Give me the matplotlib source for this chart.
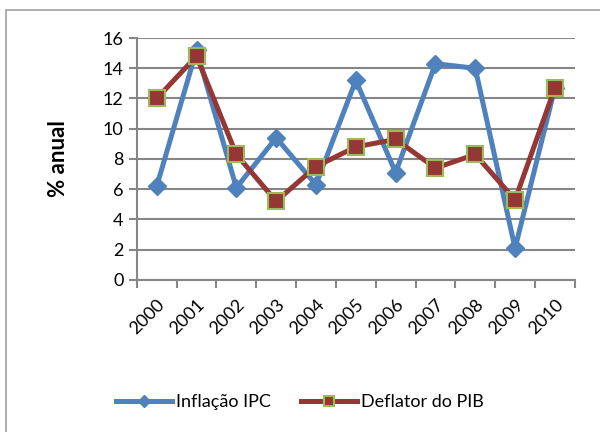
import matplotlib

matplotlib.use("Agg")
import matplotlib.pyplot as plt
from matplotlib.patches import Rectangle

# Values (% per year)
years = ["2000", "2001", "2002", "2003", "2004", "2005",
         "2006", "2007", "2008", "2009", "2010"]
ipc = [6.2, 15.2, 6.1, 9.4, 6.3, 13.2, 7.1, 14.3, 14.0, 2.1, 12.7]
deflator = [12.0, 14.8, 8.3, 5.2, 7.5, 8.8, 9.3, 7.4, 8.3, 5.3, 12.7]
yticks = [0, 2, 4, 6, 8, 10, 12, 14, 16]

BLUE = "#4F81BD"
RED = "#953735"
GREEN = "#9BBB59"
GRID = "#868686"

plt.rcParams["font.family"] = ["Lato", "DejaVu Sans"]

fig = plt.figure(figsize=(6, 4.32), dpi=100)
ax = fig.add_axes([0.228, 0.352, 0.730, 0.560])

# chart-area border, like the Excel frame
fig.patches.append(Rectangle((6 / 600, -0.1), 1.2, 1.1 - 10 / 432,
                             transform=fig.transFigure, fill=False,
                             edgecolor="#A0A0A0", lw=1.2, zorder=0))

x = list(range(len(years)))
ax.plot(x, ipc, color=BLUE, lw=3.6, marker="D", ms=9,
        mfc=BLUE, mec=BLUE, label="Inflação IPC", zorder=3)
ax.plot(x, deflator, color=RED, lw=3.6, marker="s", ms=11,
        mfc=RED, mec=GREEN, mew=1.5, label="Deflator do PIB", zorder=4)

ax.set_xlim(-0.5, len(years) - 0.5)
ax.set_ylim(0, 16)
ax.set_yticks(yticks)
ax.yaxis.grid(True, color=GRID, lw=1.5)
ax.set_axisbelow(True)

# category labels in the middle, ticks between categories
ax.set_xticks(x)
ax.set_xticklabels(years, rotation=45, ha="right", rotation_mode="anchor")
ax.set_xticks([i - 0.5 for i in range(len(years) + 1)], minor=True)
ax.tick_params(axis="x", which="major", length=0, pad=12, labelsize=13)
ax.tick_params(axis="x", which="minor", length=6, color=GRID, width=1.5)
ax.tick_params(axis="y", length=6, color=GRID, width=1.5, labelsize=13)

for side in ["top", "right"]:
    ax.spines[side].set_visible(False)
for side in ["left", "bottom"]:
    ax.spines[side].set_color(GRID)
    ax.spines[side].set_linewidth(1.5)

ax.set_ylabel("% anual", fontsize=16, fontweight="bold", labelpad=24)

fig.legend(loc="center", bbox_to_anchor=(0.5, 0.069), ncol=2, frameon=False,
           fontsize=13, handlelength=3.1, columnspacing=1.7, handletextpad=0.2,
           markerscale=0.65)

fig.savefig("out.png", dpi=100)
